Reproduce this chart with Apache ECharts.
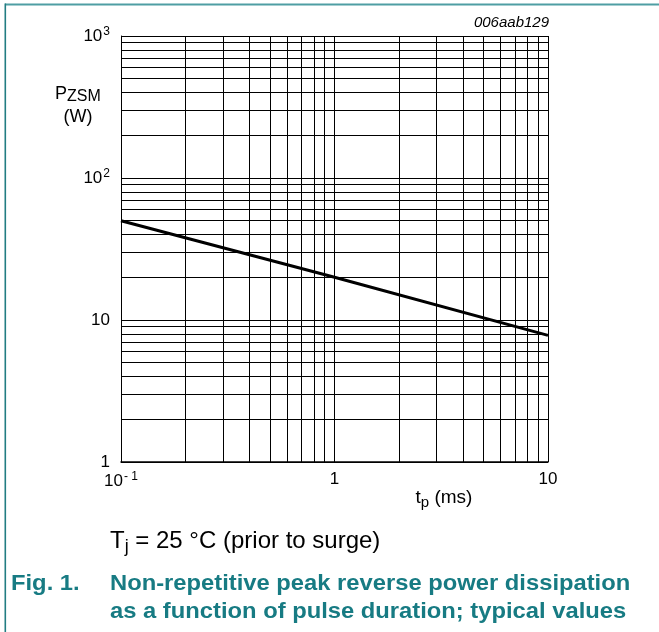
<!DOCTYPE html>
<html>
<head>
<meta charset="utf-8">
<script src="https://cdn.jsdelivr.net/npm/echarts@6/dist/echarts.min.js"></script>
<style>
html,body{margin:0;padding:0;background:#fff;}
#chart{width:659px;height:632px;}
</style>
</head>
<body>
<div id="chart"></div>
<script>
// Data
var pulseDuration = [0.1, 1, 10];          // t_p (ms)
var peakPower = [50, 20, 7.8];              // P_ZSM (W)
var xMinorGrid = [0.2, 0.3, 0.4, 0.5, 0.6, 0.7, 0.8, 0.9, 2, 3, 4, 5, 6, 7, 8, 9];
var yMinorGrid = [2, 3, 4, 5, 6, 7, 8, 9, 20, 30, 40, 50, 60, 70, 80, 90, 200, 300, 400, 500, 600, 700, 800, 900];
var xTickLabels = {'-1': '10{sup|- 1}', '0': '1', '1': '10'};
var yTickLabels = {'0': '1', '1': '10', '2': '10{sup|2}', '3': '10{sup|3}'};

var FONT = '"Liberation Sans", Arial, sans-serif';
var TEAL = '#177b83';

var chart = echarts.init(document.getElementById('chart'), null, {renderer: 'canvas'});

var markData = [];
xMinorGrid.forEach(function (v) { markData.push({xAxis: v}); });
yMinorGrid.forEach(function (v) { markData.push({yAxis: v}); });

var supRich = {
  sup: {fontSize: 12, verticalAlign: 'top', padding: [0, 0, 9, 1], fontFamily: FONT, color: '#000'}
};

chart.setOption({
  animation: false,
  backgroundColor: '#fff',
  grid: {left: 121, top: 36, right: 111, bottom: 170, containLabel: false},
  xAxis: {
    type: 'log', logBase: 10, min: 0.1, max: 10,
    axisLine: {show: true, lineStyle: {color: '#000', width: 1.5}},
    axisTick: {show: false},
    splitLine: {show: true, lineStyle: {color: '#000', width: 1}},
    axisLabel: {
      margin: 9, fontSize: 17, color: '#000', fontFamily: FONT,
      formatter: function (v) { return xTickLabels[String(Math.round(Math.log10(v)))] || ''; },
      rich: supRich
    }
  },
  yAxis: {
    type: 'log', logBase: 10, min: 1, max: 1000,
    axisLine: {show: true, lineStyle: {color: '#000', width: 1}},
    axisTick: {show: false},
    splitLine: {show: true, lineStyle: {color: '#000', width: 1}},
    axisLabel: {
      margin: 11, fontSize: 17, color: '#000', fontFamily: FONT,
      formatter: function (v) { return yTickLabels[String(Math.round(Math.log10(v)))] || ''; },
      rich: supRich
    }
  },
  series: [{
    type: 'line',
    data: pulseDuration.map(function (x, i) { return [x, peakPower[i]]; }),
    symbol: 'none',
    lineStyle: {color: '#000', width: 3},
    z: 5,
    markLine: {
      silent: true,
      symbol: ['none', 'none'],
      label: {show: false},
      lineStyle: {color: '#000', width: 1, type: 'solid'},
      emphasis: {disabled: true},
      data: markData,
      z: 1
    }
  }],
  graphic: [
    {type: 'rect', shape: {x: 5, y: 3.5, width: 654, height: 2}, style: {fill: '#4f9ea3'}},
    {type: 'rect', shape: {x: 4.5, y: 3.5, width: 1.6, height: 629}, style: {fill: '#227d82'}},
    {type: 'text', x: 549, y: 23, style: {text: '006aab129', font: 'italic 15px ' + FONT, fill: '#000', align: 'right', verticalAlign: 'middle'}},
    {type: 'text', x: 55, y: 94, style: {
      text: 'P{sub|ZSM}', align: 'left', verticalAlign: 'middle', font: '18px ' + FONT, fill: '#000',
      rich: {sub: {fontSize: 16, fontFamily: FONT, padding: [5, 0, 0, 0], fill: '#000'}}
    }},
    {type: 'text', x: 78, y: 117, style: {text: '(W)', align: 'center', verticalAlign: 'middle', font: '18px ' + FONT, fill: '#000'}},
    {type: 'text', x: 444, y: 498, style: {
      text: 't{sub|p} (ms)', align: 'center', verticalAlign: 'middle', font: '19px ' + FONT, fill: '#000',
      rich: {sub: {fontSize: 15, fontFamily: FONT, padding: [9, 0, 0, 0], fill: '#000'}}
    }},
    {type: 'text', x: 110, y: 541, style: {
      text: 'T{sub|j} = 25 °C (prior to surge)', align: 'left', verticalAlign: 'middle', font: '24px ' + FONT, fill: '#000',
      rich: {sub: {fontSize: 18, fontFamily: FONT, padding: [12, 0, 0, 0], fill: '#000'}}
    }},
    {type: 'text', x: 11, y: 584, scaleX: 1.08, style: {text: 'Fig. 1.', align: 'left', verticalAlign: 'middle', font: 'bold 22px ' + FONT, fill: TEAL}},
    {type: 'text', x: 110, y: 584, scaleX: 1.08, style: {text: 'Non-repetitive peak reverse power dissipation', align: 'left', verticalAlign: 'middle', font: 'bold 22px ' + FONT, fill: TEAL}},
    {type: 'text', x: 110, y: 612, scaleX: 1.08, style: {text: 'as a function of pulse duration; typical values', align: 'left', verticalAlign: 'middle', font: 'bold 22px ' + FONT, fill: TEAL}}
  ]
});
</script>
</body>
</html>
